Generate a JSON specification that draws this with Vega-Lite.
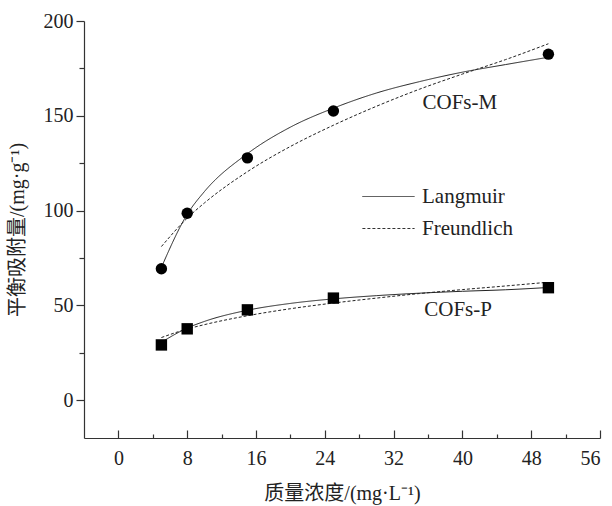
{
  "$schema": "https://vega.github.io/schema/vega-lite/v6.json",
  "width": 516,
  "height": 417,
  "autosize": {"type": "none"},
  "padding": {"left": 84, "top": 21, "right": 12, "bottom": 68},
  "background": "white",
  "config": {
    "view": {"stroke": null},
    "font": "Liberation Serif",
    "axis": {
      "domainColor": "#333",
      "domainWidth": 1.2,
      "tickColor": "#333",
      "tickWidth": 1.2,
      "grid": false,
      "labelFont": "Liberation Serif",
      "labelFontSize": 20,
      "labelColor": "#222",
      "titleFont": "Liberation Serif, Noto Sans CJK SC",
      "titleFontSize": 20,
      "titleFontWeight": "normal",
      "titleColor": "#222"
    }
  },
  "datasets": {
    "measured": [
      {"sample": "COFs-M", "C": 5, "q": 69.3},
      {"sample": "COFs-M", "C": 8, "q": 98.6},
      {"sample": "COFs-M", "C": 15, "q": 127.8},
      {"sample": "COFs-M", "C": 25, "q": 152.5},
      {"sample": "COFs-M", "C": 50, "q": 182.5},
      {"sample": "COFs-P", "C": 5, "q": 29.1},
      {"sample": "COFs-P", "C": 8, "q": 37.6},
      {"sample": "COFs-P", "C": 15, "q": 47.6},
      {"sample": "COFs-P", "C": 25, "q": 53.8},
      {"sample": "COFs-P", "C": 50, "q": 59.3}
    ],
    "fitted": [
      {"sample": "COFs-M", "model": "Langmuir", "C": 5, "q": 70},
      {"sample": "COFs-M", "model": "Langmuir", "C": 8, "q": 98},
      {"sample": "COFs-M", "model": "Langmuir", "C": 10, "q": 110},
      {"sample": "COFs-M", "model": "Langmuir", "C": 15, "q": 130},
      {"sample": "COFs-M", "model": "Langmuir", "C": 20, "q": 144},
      {"sample": "COFs-M", "model": "Langmuir", "C": 25, "q": 154},
      {"sample": "COFs-M", "model": "Langmuir", "C": 30, "q": 162},
      {"sample": "COFs-M", "model": "Langmuir", "C": 35, "q": 168},
      {"sample": "COFs-M", "model": "Langmuir", "C": 40, "q": 173},
      {"sample": "COFs-M", "model": "Langmuir", "C": 45, "q": 177},
      {"sample": "COFs-M", "model": "Langmuir", "C": 49.5, "q": 180.5},
      {"sample": "COFs-M", "model": "Freundlich", "C": 5, "q": 81},
      {"sample": "COFs-M", "model": "Freundlich", "C": 8, "q": 96},
      {"sample": "COFs-M", "model": "Freundlich", "C": 10, "q": 104},
      {"sample": "COFs-M", "model": "Freundlich", "C": 15, "q": 120.5},
      {"sample": "COFs-M", "model": "Freundlich", "C": 20, "q": 133.8},
      {"sample": "COFs-M", "model": "Freundlich", "C": 25, "q": 145},
      {"sample": "COFs-M", "model": "Freundlich", "C": 30, "q": 155},
      {"sample": "COFs-M", "model": "Freundlich", "C": 35, "q": 164},
      {"sample": "COFs-M", "model": "Freundlich", "C": 40, "q": 172},
      {"sample": "COFs-M", "model": "Freundlich", "C": 45, "q": 179.6},
      {"sample": "COFs-M", "model": "Freundlich", "C": 50, "q": 188},
      {"sample": "COFs-P", "model": "Langmuir", "C": 5, "q": 30.5},
      {"sample": "COFs-P", "model": "Langmuir", "C": 8, "q": 38},
      {"sample": "COFs-P", "model": "Langmuir", "C": 10, "q": 41.5},
      {"sample": "COFs-P", "model": "Langmuir", "C": 15, "q": 47.4},
      {"sample": "COFs-P", "model": "Langmuir", "C": 20, "q": 51},
      {"sample": "COFs-P", "model": "Langmuir", "C": 25, "q": 53.4},
      {"sample": "COFs-P", "model": "Langmuir", "C": 30, "q": 55.1},
      {"sample": "COFs-P", "model": "Langmuir", "C": 35, "q": 56.4},
      {"sample": "COFs-P", "model": "Langmuir", "C": 40, "q": 57.4},
      {"sample": "COFs-P", "model": "Langmuir", "C": 45, "q": 58.2},
      {"sample": "COFs-P", "model": "Langmuir", "C": 50, "q": 59.4},
      {"sample": "COFs-P", "model": "Freundlich", "C": 5, "q": 33},
      {"sample": "COFs-P", "model": "Freundlich", "C": 8, "q": 37.5},
      {"sample": "COFs-P", "model": "Freundlich", "C": 10, "q": 39.8},
      {"sample": "COFs-P", "model": "Freundlich", "C": 15, "q": 44.5},
      {"sample": "COFs-P", "model": "Freundlich", "C": 20, "q": 48.2},
      {"sample": "COFs-P", "model": "Freundlich", "C": 25, "q": 51.2},
      {"sample": "COFs-P", "model": "Freundlich", "C": 30, "q": 53.8},
      {"sample": "COFs-P", "model": "Freundlich", "C": 35, "q": 56.2},
      {"sample": "COFs-P", "model": "Freundlich", "C": 40, "q": 58.3},
      {"sample": "COFs-P", "model": "Freundlich", "C": 45, "q": 60.2},
      {"sample": "COFs-P", "model": "Freundlich", "C": 49.5, "q": 62}
    ],
    "tags": [
      {"label": "COFs-M", "C": 39.7, "q": 156.5},
      {"label": "COFs-P", "C": 39.5, "q": 47.5}
    ]
  },
  "encoding": {
    "x": {
      "field": "C",
      "type": "quantitative",
      "scale": {"domain": [-4, 56], "nice": false, "zero": false},
      "axis": {
        "title": "质量浓度/(mg·L⁻¹)",
        "values": [0, 4, 8, 12, 16, 20, 24, 28, 32, 36, 40, 44, 48, 52, 56],
        "labelExpr": "datum.value % 8 === 0 ? datum.label : ''",
        "tickSize": {"condition": {"test": "datum.value % 8 === 0", "value": -8}, "value": -4},
        "labelPadding": 18,
        "titlePadding": 15
      }
    },
    "y": {
      "field": "q",
      "type": "quantitative",
      "scale": {"domain": [-20, 200], "nice": false, "zero": false},
      "axis": {
        "title": "平衡吸附量/(mg·g⁻¹)",
        "values": [0, 25, 50, 75, 100, 125, 150, 175, 200],
        "labelExpr": "datum.value % 50 === 0 ? datum.label : ''",
        "tickSize": {"condition": {"test": "datum.value % 50 === 0", "value": 8}, "value": 5},
        "labelPadding": 3,
        "titlePadding": 16
      }
    }
  },
  "layer": [
    {
      "data": {"name": "fitted"},
      "mark": {"type": "line", "interpolate": "monotone", "color": "#222", "strokeWidth": 1},
      "encoding": {
        "detail": {"field": "sample"},
        "strokeDash": {
          "field": "model",
          "type": "nominal",
          "scale": {"domain": ["Langmuir", "Freundlich"], "range": [[1, 0], [3, 2]]},
          "legend": {
            "title": null,
            "orient": "none",
            "legendX": 294,
            "legendY": 165,
            "padding": 0,
            "symbolType": "M-2.9,0H2.9",
            "symbolSize": 324,
            "symbolStrokeColor": "#333",
            "symbolStrokeWidth": 1,
            "labelOffset": 23,
            "labelFont": "Liberation Serif",
            "labelFontSize": 21,
            "labelColor": "#222",
            "rowPadding": 10
          }
        }
      }
    },
    {
      "data": {"name": "measured"},
      "mark": {"type": "point", "filled": true, "opacity": 1, "color": "#000"},
      "encoding": {
        "shape": {
          "field": "sample",
          "type": "nominal",
          "scale": {"domain": ["COFs-M", "COFs-P"], "range": ["circle", "square"]},
          "legend": null
        },
        "size": {"value": 130}
      }
    },
    {
      "data": {"name": "tags"},
      "mark": {"type": "text", "font": "Liberation Serif", "fontSize": 21, "color": "#222", "align": "center", "baseline": "middle"},
      "encoding": {"text": {"field": "label"}}
    }
  ]
}
